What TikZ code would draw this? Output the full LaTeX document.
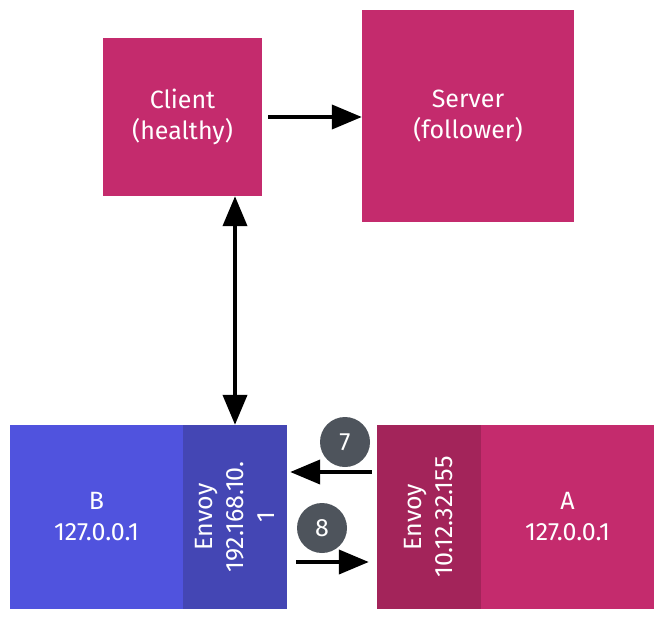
\documentclass[tikz,border=0pt]{standalone}
\usepackage{fontspec}
\setmainfont{Fira Sans}
\usetikzlibrary{positioning, arrows.meta, calc}
\definecolor{apppink}{HTML}{C42B6D}
\definecolor{appblue}{HTML}{5053DE}
\definecolor{envoyblue}{HTML}{4446B4}
\definecolor{envoyred}{HTML}{A3245A}
\definecolor{stepgray}{HTML}{4E545C}

\begin{document}
\begin{tikzpicture}[
    x=1pt, y=-1pt,
    font=\fontsize{25}{31}\selectfont,
    appbox/.style={
        fill=apppink, text=white, align=center, inner sep=0pt,
    },
    hostbox/.style={
        text=white, align=center, inner sep=0pt,
        minimum width=173pt, minimum height=184pt,
    },
    envoybox/.style={
        text=white, align=center, inner sep=0pt, rotate=90,
        minimum width=184pt, minimum height=104pt,
    },
    stepnum/.style={
        circle, fill=stepgray, text=white, inner sep=0pt,
        minimum size=50pt,
    },
    flow/.style={
        -{Triangle[length=30pt, width=24pt]}, line width=4pt,
    },
]
\useasboundingbox (0,0) rectangle (659,624);

% Top row
\node[appbox, minimum width=159pt, minimum height=158pt] (client)
    at (182.5,117) {Client\\(healthy)};
\node[appbox, minimum width=212pt, minimum height=212pt] (server)
    at (468,116) {Server\\(follower)};

% Service B with its sidecar
\node[hostbox, fill=appblue] (hostb) at (96.5,517) {B\\127.0.0.1};
\node[envoybox, fill=envoyblue] (envoyb) at (235,517) {Envoy\\192.168.10.\\1};

% Service A with its sidecar
\node[envoybox, fill=envoyred] (envoya) at (429,517) {Envoy\\10.12.32.155};
\node[hostbox, fill=apppink] (hosta) at (567.5,517) {A\\127.0.0.1};

% Step markers
\node[stepnum] (seven) at (345,442) {7};
\node[stepnum] (eight) at (322,528) {8};

% Arrows (envoy boxes are rotated: east is the top, north the left, south the right)
\draw[flow] ([xshift=6pt]client.east) -- (server.west |- client.east);
\draw[flow, {Triangle[length=30pt, width=24pt]}-{Triangle[length=30pt, width=24pt]}]
    (envoyb.east |- client.south) -- (envoyb.east);
\draw[flow] ([xshift=-5pt, yshift=45pt]envoya.north) -- ([xshift=3pt, yshift=45pt]envoyb.south);
\draw[flow] ([xshift=9pt, yshift=-45pt]envoyb.south) -- ([xshift=-8pt, yshift=-45pt]envoya.north);

\end{tikzpicture}
\end{document}
